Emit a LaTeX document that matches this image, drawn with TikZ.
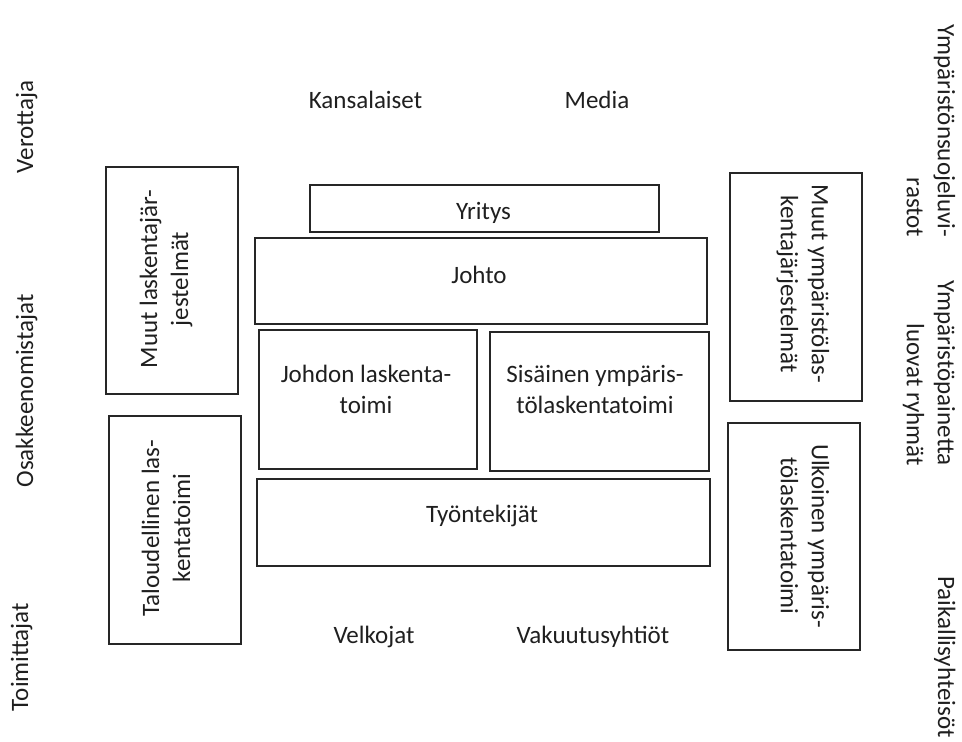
\documentclass[tikz,border=0pt]{standalone}
\usepackage{fontspec}
\setmainfont{Carlito}
\newcommand{\lblfont}{\fontsize{25}{31}\selectfont}
\tikzset{
  box/.style={draw=black!85, line width=1.3pt, inner sep=0pt, fill=none},
  lbl/.style={font=\lblfont, text=black!88, align=center, inner sep=0pt},
  lup/.style={lbl, rotate=90},
  ldown/.style={lbl, rotate=-90}
}
\begin{document}
\begin{tikzpicture}[x=1pt,y=-1pt]
\fill[white] (0,0) rectangle (962,742);
\useasboundingbox (0,0) rectangle (962,742);

% boxes
\node[box, minimum width=132pt, minimum height=227pt] (muutl) at (172,280.5) {};
\node[box, minimum width=132pt, minimum height=228pt] (talo) at (175,530) {};
\node[box, minimum width=349pt, minimum height=47pt] (yritys) at (484.5,208.5) {};
\node[box, minimum width=452pt, minimum height=86pt] (johto) at (481,281) {};
\node[box, minimum width=218pt, minimum height=139pt] (johdon) at (368,399.5) {};
\node[box, minimum width=219pt, minimum height=139pt] (sisainen) at (599.5,401.5) {};
\node[box, minimum width=453pt, minimum height=87pt] (tyont) at (483.5,522.5) {};
\node[box, minimum width=132pt, minimum height=228pt] (muuty) at (796,287) {};
\node[box, minimum width=132pt, minimum height=227pt] (ulko) at (794,536.5) {};

% texts inside boxes
\node[lbl, anchor=base] (tyritys) at (483.5,219) {Yritys};
\node[lbl, anchor=base] (tjohto) at (479,283) {Johto};
\node[lbl] (tjohdon) at (366,389) {Johdon laskenta-\\toimi};
\node[lbl] (tsisainen) at (595,389) {Sisäinen ympäris-\\tölaskentatoimi};
\node[lbl, anchor=base] (ttyont) at (482,522) {Työntekijät};
\node[lup] (tmuutl) at (166,279) {Muut laskentajär-\\jestelmät};
\node[lup] (ttalo) at (166,528) {Taloudellinen las-\\kentatoimi};
\node[ldown] (tmuuty) at (803,284) {Muut ympäristölas-\\kentajärjestelmät};
\node[ldown] (tulko) at (805,536) {Ulkoinen ympäris-\\tölaskentatoimi};

% outer stakeholders
\node[lbl, anchor=base] (kans) at (365.5,108) {Kansalaiset};
\node[lbl, anchor=base] (media) at (597,108) {Media};
\node[lbl, anchor=base] (velk) at (374,643) {Velkojat};
\node[lbl, anchor=base] (vak) at (593,643) {Vakuutusyhtiöt};
\node[lup, anchor=base] (vero) at (33,127) {Verottaja};
\node[lup, anchor=base] (osak) at (33,391) {Osakkeenomistajat};
\node[lup, anchor=base] (toim) at (28,657) {Toimittajat};
\node[ldown, align=right] (ysuoj) at (931,131) {Ympäristönsuojeluvi-\\rastot};
\node[ldown, align=right] (ypain) at (929,373) {Ympäristöpainetta\\luovat ryhmät};
\node[ldown, anchor=base] (paik) at (938,657) {Paikallisyhteisöt};
\end{tikzpicture}
\end{document}
